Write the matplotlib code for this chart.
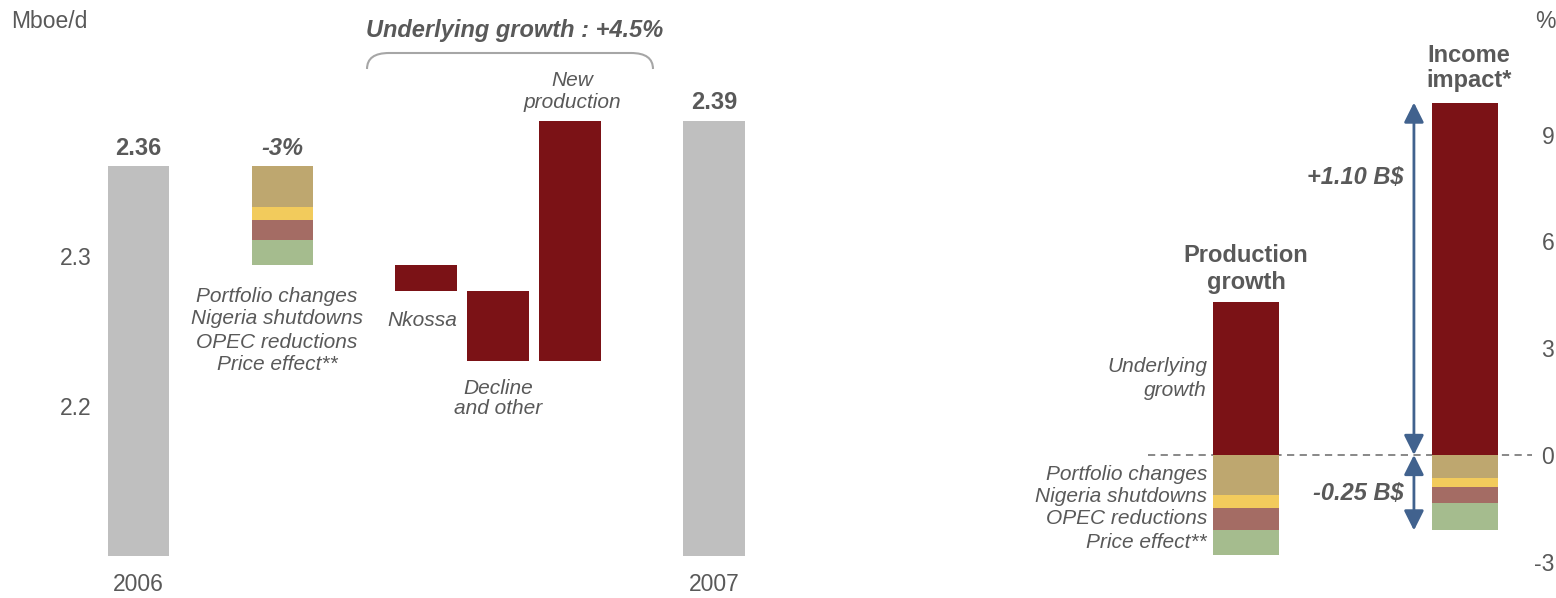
import matplotlib.pyplot as plt
from matplotlib.path import Path
from matplotlib.patches import PathPatch
from matplotlib.transforms import Affine2D

plt.rcParams['font.family'] = ['Liberation Sans', 'DejaVu Sans']

# left: production bridge 2006 -> 2007, Mboe/d
start_2006 = 2.36
end_2007 = 2.39
effect_names = ['Portfolio changes', 'Nigeria shutdowns', 'OPEC reductions', 'Price effect**']
effect_steps = [-0.027, -0.009, -0.013, -0.017]
growth_steps = [-0.017, -0.047, 0.16]   # Nkossa, decline and other, new production
years = ['2006', '2007']
left_ticks = [2.2, 2.3]

# right: production growth vs income impact, %
prod_growth = 4.29
prod_effects = [-1.12, -0.36, -0.62, -0.70]
income_growth = 9.9
income_effects = [-0.64, -0.25, -0.45, -0.78]
right_ticks = [-3, 0, 3, 6, 9]

GREY = '#BFBFBF'
RED = '#7B1216'
EFFECT_COLORS = ['#BEA76F', '#F2CB5C', '#A46C64', '#A5BC8E']
TXT = '#595959'
BLUE = '#41628E'

W, H = 1556, 598
fig = plt.figure(figsize=(W / 100, H / 100), dpi=100)
# pixel coords (origin top-left) -> figure
pix = Affine2D().scale(1 / W, -1 / H).translate(0, 1) + fig.transFigure


def box(l, t, r, b):
    return [l / W, 1 - b / H, (r - l) / W, (b - t) / H]


def label(x, y, s, **kw):
    kw.setdefault('color', TXT)
    kw.setdefault('ha', 'center')
    kw.setdefault('va', 'center')
    fig.text(x, y, s, transform=pix, **kw)


# ---------------- left panel ----------------
ax1 = fig.add_axes(box(100, 46, 760, 556))
base = 2.1
ax1.set_ylim(base, 2.44)
ax1.set_xlim(-0.53, 8.64)
bw = 0.85

ax1.bar(0, start_2006 - base, bottom=base, width=bw, color=GREY)
level = start_2006
for v, c in zip(effect_steps, EFFECT_COLORS):
    ax1.bar(2, v, bottom=level, width=bw, color=c)
    level += v
for x, v in zip([4, 5, 6], growth_steps):
    ax1.bar(x, v, bottom=level, width=bw, color=RED)
    level += v
ax1.bar(8, end_2007 - base, bottom=base, width=bw, color=GREY)

ax1.annotate(f'{start_2006:.2f}', (0, start_2006), xytext=(0, 4), textcoords='offset points',
             ha='center', va='bottom', fontsize=17, fontweight='bold', color=TXT)
ax1.annotate(f'{end_2007:.2f}', (8, end_2007), xytext=(0, 5), textcoords='offset points',
             ha='center', va='bottom', fontsize=17, fontweight='bold', color=TXT)
pct = round(sum(effect_steps) / start_2006 * 100)
ax1.annotate(f'{pct}%', (2, start_2006), xytext=(0, 4), textcoords='offset points',
             ha='center', va='bottom', fontsize=17, fontweight='bold', style='italic', color=TXT)

ax1.set_yticks(left_ticks)
ax1.set_yticklabels([f'{t:.1f}' for t in left_ticks])
ax1.set_xticks([0, 8])
ax1.set_xticklabels(years)
ax1.tick_params(axis='y', length=0, pad=6, labelsize=16.5, labelcolor=TXT)
ax1.tick_params(axis='x', length=0, pad=12, labelsize=16.5, labelcolor=TXT)
for s in ax1.spines.values():
    s.set_visible(False)

label(11, 22, 'Mboe/d', ha='left', fontsize=16.5)
label(515, 30, 'Underlying growth : +4.5%', fontsize=17, fontweight='bold', style='italic')

# bracket over the underlying growth steps
x0, x1, yb, yt, r = 367, 653, 69, 53, 22
bracket = Path([(x0, yb), (x0, yt), (x0 + r, yt), (x1 - r, yt), (x1, yt), (x1, yb)],
               [Path.MOVETO, Path.CURVE3, Path.CURVE3, Path.LINETO, Path.CURVE3, Path.CURVE3])
fig.patches.append(PathPatch(bracket, transform=pix, fill=False, edgecolor='#A6A6A6', lw=1.5))

label(572, 80, 'New', fontsize=15, style='italic')
label(572, 103, 'production', fontsize=15, style='italic')
for y, name in zip([296, 319, 342, 364], effect_names):
    label(277, y, name, fontsize=15, style='italic')
label(422, 321, 'Nkossa', fontsize=15, style='italic')
label(498, 388, 'Decline', fontsize=15, style='italic')
label(498, 409, 'and other', fontsize=15, style='italic')

# ---------------- right panel ----------------
ax2 = fig.add_axes(box(1148, 10, 1532, 597))
ax2.set_ylim(-3.99, 12.5)
ax2.set_xlim(-0.447, 1.306)
rw = 0.3

ax2.axhline(0, color='#7F7F7F', ls=(0, (4, 3)), lw=1.3, zorder=0)
for x, up, effects in [(0, prod_growth, prod_effects), (1, income_growth, income_effects)]:
    ax2.bar(x, up, width=rw, color=RED, zorder=2)
    level = 0
    for v, c in zip(effects, EFFECT_COLORS):
        ax2.bar(x, v, bottom=level, width=rw, color=c, zorder=2)
        level += v

ax_x = 0.767
arrow = dict(arrowstyle='<|-|>,head_length=0.6,head_width=0.3', color=BLUE, lw=2,
             shrinkA=0, shrinkB=0, mutation_scale=20)
ax2.annotate('', xy=(ax_x, income_growth), xytext=(ax_x, 0), arrowprops=arrow)
ax2.annotate('', xy=(ax_x, sum(income_effects)), xytext=(ax_x, 0), arrowprops=arrow)

ax2.yaxis.tick_right()
ax2.set_yticks(right_ticks)
ax2.set_yticklabels([str(t) for t in right_ticks], ha='right')
ax2.set_xticks([])
ax2.tick_params(axis='y', length=0, pad=16, labelsize=16.5, labelcolor=TXT)
for s in ax2.spines.values():
    s.set_visible(False)

label(1545, 22, '%', fontsize=16.5)
label(1469, 55, 'Income', fontsize=17, fontweight='bold')
label(1469, 80, 'impact*', fontsize=17, fontweight='bold')
label(1246, 255, 'Production', fontsize=17, fontweight='bold')
label(1246, 282, 'growth', fontsize=17, fontweight='bold')
label(1404, 177, '+1.10 B$', ha='right', fontsize=17, fontweight='bold', style='italic')
label(1404, 493, '-0.25 B$', ha='right', fontsize=17, fontweight='bold', style='italic')
label(1207, 367, 'Underlying', ha='right', fontsize=15, style='italic')
label(1207, 390, 'growth', ha='right', fontsize=15, style='italic')
for y, name in zip([475, 497, 519, 542], effect_names):
    label(1207, y, name, ha='right', fontsize=15, style='italic')

fig.savefig('out.png', dpi=100)
